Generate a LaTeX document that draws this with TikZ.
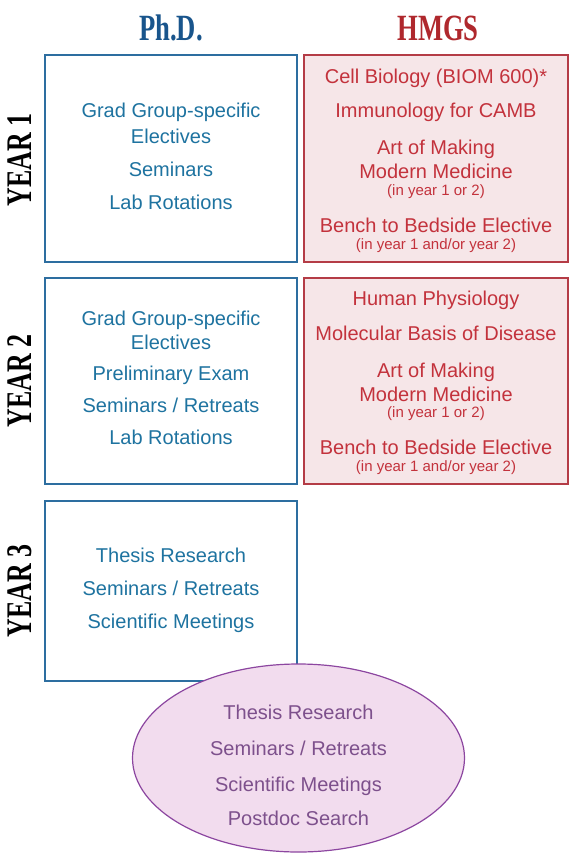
\documentclass[tikz,border=0pt]{standalone}
\usepackage{fontspec}
\setmainfont{Liberation Sans}
\newfontfamily\headserif[FakeStretch=0.72]{Liberation Serif}
\usetikzlibrary{shapes.geometric}
\definecolor{phdtext}{RGB}{30,115,160}
\definecolor{phdline}{RGB}{45,110,160}
\definecolor{phdhead}{RGB}{25,85,140}
\definecolor{hmgshead}{RGB}{175,40,45}
\definecolor{redtext}{RGB}{195,50,60}
\definecolor{redline}{RGB}{180,60,70}
\definecolor{redfill}{RGB}{246,230,232}
\definecolor{elfill}{RGB}{242,220,238}
\definecolor{elline}{RGB}{140,70,160}
\definecolor{eltext}{RGB}{125,80,140}
\tikzset{
  phdbox/.style={draw=phdline, line width=1.2pt, fill=white},
  redbox/.style={draw=redline, line width=1.2pt, fill=redfill},
  bigtxt/.style={font=\fontsize{20}{22}\selectfont, inner sep=0pt, text height=14.5pt, text depth=0.5pt},
  smalltxt/.style={font=\fontsize{15}{17}\selectfont, inner sep=0pt, text height=11pt, text depth=0.5pt},
  bt/.style={bigtxt, text=phdtext},
  rt/.style={bigtxt, text=redtext},
  rs/.style={smalltxt, text=redtext},
  et/.style={bigtxt, text=eltext},
  yearlbl/.style={font=\headserif\bfseries\fontsize{36}{38}\selectfont, rotate=90, inner sep=0pt},
  colhead/.style={font=\headserif\bfseries\fontsize{37}{40}\selectfont, inner sep=0pt},
}
\begin{document}
\begin{tikzpicture}[x=1pt,y=-1pt]
\useasboundingbox (0,0) rectangle (569,855);
% headers
\node[colhead, text=phdhead] (hphd) at (171,28) {Ph.D.};
\node[colhead, text=hmgshead] (hhmgs) at (438,28) {HMGS};
% year labels
\node[yearlbl] (y1) at (20,160) {YEAR 1};
\node[yearlbl] (y2) at (20,381) {YEAR 2};
\node[yearlbl] (y3) at (20,591) {YEAR 3};
% boxes
\draw[phdbox] (45,55) rectangle (297,262);
\draw[redbox] (304,55) rectangle (568,262);
\draw[phdbox] (45,278) rectangle (297,484);
\draw[redbox] (304,278) rectangle (568,484);
\draw[phdbox] (45,501) rectangle (297,681);
% year 1 phd
\node[bt] (p1a) at (171,110) {Grad Group-specific};
\node[bt] (p1b) at (171,136) {Electives};
\node[bt] (p1c) at (171,169) {Seminars};
\node[bt] (p1d) at (171,202) {Lab Rotations};
% year 1 hmgs
\node[rt] (h1a) at (436,76) {Cell Biology (BIOM 600)*};
\node[rt] (h1b) at (436,110) {Immunology for CAMB};
\node[rt] (h1c) at (436,147) {Art of Making};
\node[rt] (h1d) at (436,171) {Modern Medicine};
\node[rs] (h1e) at (436,190) {(in year 1 or 2)};
\node[rt] (h1f) at (436,225) {Bench to Bedside Elective};
\node[rs] (h1g) at (436,244) {(in year 1 and/or year 2)};
% year 2 phd
\node[bt] (p2a) at (171,318) {Grad Group-specific};
\node[bt] (p2b) at (171,342) {Electives};
\node[bt] (p2c) at (171,373) {Preliminary Exam};
\node[bt] (p2d) at (171,405) {Seminars / Retreats};
\node[bt] (p2e) at (171,437) {Lab Rotations};
% year 2 hmgs
\node[rt] (h2a) at (436,298) {Human Physiology};
\node[rt] (h2b) at (436,333) {Molecular Basis of Disease};
\node[rt] (h2c) at (436,370) {Art of Making};
\node[rt] (h2d) at (436,394) {Modern Medicine};
\node[rs] (h2e) at (436,412) {(in year 1 or 2)};
\node[rt] (h2f) at (436,447) {Bench to Bedside Elective};
\node[rs] (h2g) at (436,466) {(in year 1 and/or year 2)};
% year 3 phd
\node[bt] (p3a) at (171,555) {Thesis Research};
\node[bt] (p3b) at (171,588) {Seminars / Retreats};
\node[bt] (p3c) at (171,621) {Scientific Meetings};
% ellipse
\node[ellipse, draw=elline, fill=elfill, line width=1.2pt, minimum width=332pt, minimum height=188pt, inner sep=0pt] (el) at (298.5,758) {};
\node[et] (e1) at (298.5,712) {Thesis Research};
\node[et] (e2) at (298.5,748) {Seminars / Retreats};
\node[et] (e3) at (298.5,784) {Scientific Meetings};
\node[et] (e4) at (298.5,818) {Postdoc Search};
\end{tikzpicture}
\end{document}
